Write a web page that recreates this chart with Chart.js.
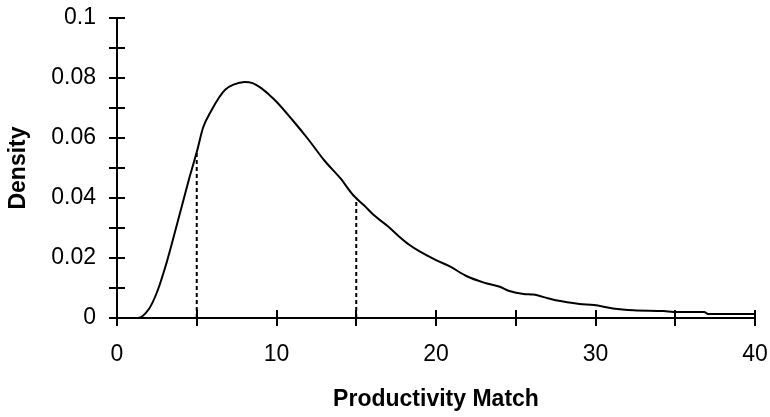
<!DOCTYPE html>
<html>
<head>
<meta charset="utf-8">
<script src="https://cdn.jsdelivr.net/npm/chart.js@4/dist/chart.umd.min.js"></script>
<style>
  html, body { margin: 0; padding: 0; background: #fff; }
  #wrap { width: 770px; height: 417px; }
</style>
</head>
<body>
<div id="wrap"><canvas id="densityChart"></canvas></div>
<script>
// --- data ---
const matchX = [0, 1.3, 2.0, 2.5, 3.0, 3.5, 4.0, 4.5, 5.0, 5.4, 5.9, 6.4, 6.8, 7.3, 8.0, 8.5, 9.0, 9.5, 10.0,
  11.0, 12.0, 13.0, 14.0, 14.8, 15.5, 16.1, 17.0, 17.7, 18.3, 19.0, 20.0, 20.9, 21.9, 23.0, 24.0, 24.6, 25.5,
  26.1, 27.0, 27.6, 29.0, 29.9, 31.1, 32.4, 34.3, 34.9, 36.8, 37.1, 40.0];
const densityY = [0, 0, 0.003, 0.0085, 0.0165, 0.026, 0.036, 0.046, 0.0553, 0.0635, 0.069, 0.0735, 0.0762,
  0.0778, 0.0787, 0.0783, 0.0768, 0.0746, 0.0721, 0.066, 0.0595, 0.0525, 0.0466, 0.041, 0.0375, 0.0343, 0.0305,
  0.0271, 0.0245, 0.0221, 0.0193, 0.0171, 0.014, 0.0118, 0.0104, 0.009, 0.008, 0.0078, 0.0066, 0.0058, 0.0047,
  0.0043, 0.0032, 0.0026, 0.0023, 0.002, 0.002, 0.0013, 0.0013];

// dotted drop lines
const dropX = [5, 15];
const dropY = [0.0553, 0.0395];

const xTicks = [0, 10, 20, 30, 40];
const yTicks = [0, 0.02, 0.04, 0.06, 0.08, 0.1];

const FONT = "'Liberation Sans', Arial, sans-serif";

const curve = matchX.map((x, i) => ({ x: x, y: densityY[i] }));
const dropSets = dropX.map((x, i) => ({
  data: [{ x: x, y: 0 }, { x: x, y: dropY[i] }],
  borderColor: '#000',
  borderWidth: 2,
  borderDash: [4, 3],
  pointRadius: 0,
  showLine: true,
  clip: false
}));

// axes with ticks crossing the line, like the original
const crossAxes = {
  id: 'crossAxes',
  afterDatasetsDraw(chart) {
    const { ctx, chartArea, scales } = chart;
    const xs = scales.x, ys = scales.y;
    ctx.save();
    ctx.strokeStyle = '#000';
    ctx.lineWidth = 2;
    ctx.beginPath();
    ctx.moveTo(chartArea.left, ys.getPixelForValue(0.1));
    ctx.lineTo(chartArea.left, ys.getPixelForValue(0));
    ctx.lineTo(xs.getPixelForValue(40), ys.getPixelForValue(0));
    for (let v = 0; v <= 0.1001; v += 0.01) {
      const py = Math.round(ys.getPixelForValue(v));
      ctx.moveTo(chartArea.left - 8, py);
      ctx.lineTo(chartArea.left + 8, py);
    }
    for (let v = 0; v <= 40; v += 5) {
      const px = Math.round(xs.getPixelForValue(v));
      ctx.moveTo(px, chartArea.bottom - 8);
      ctx.lineTo(px, chartArea.bottom + 8);
    }
    ctx.stroke();
    ctx.restore();
  }
};

new Chart(document.getElementById('densityChart'), {
  type: 'scatter',
  data: {
    datasets: [{
      data: curve,
      borderColor: '#000',
      borderWidth: 2,
      pointRadius: 0,
      showLine: true,
      cubicInterpolationMode: 'monotone',
      clip: false
    }, ...dropSets]
  },
  options: {
    responsive: true,
    maintainAspectRatio: false,
    animation: false,
    layout: { padding: { top: 18, right: 15, left: 0, bottom: 0 } },
    plugins: { legend: { display: false }, tooltip: { enabled: false } },
    scales: {
      x: {
        type: 'linear',
        min: 0, max: 40,
        afterBuildTicks: s => { s.ticks = xTicks.map(v => ({ value: v })); },
        afterFit: s => { s.height = 99; s.paddingLeft = 0; s.paddingRight = 0; },
        grid: { display: false, drawTicks: false },
        border: { display: false },
        ticks: { color: '#000', padding: 23, font: { family: FONT, size: 23 } },
        title: {
          display: true,
          text: 'Productivity Match',
          color: '#000',
          font: { family: FONT, size: 23, weight: 'bold' },
          padding: { top: 0, bottom: 4 }
        }
      },
      y: {
        type: 'linear',
        min: 0, max: 0.1,
        afterBuildTicks: s => { s.ticks = yTicks.map(v => ({ value: v })); },
        afterFit: s => { s.width = 117; s.paddingTop = 0; s.paddingBottom = 0; },
        grid: { display: false, drawTicks: false },
        border: { display: false },
        ticks: {
          color: '#000', padding: 21,
          font: { family: FONT, size: 23 },
          callback: v => String(+v.toFixed(2))
        },
        title: {
          display: true,
          text: 'Density',
          color: '#000',
          font: { family: FONT, size: 23, weight: 'bold' },
          padding: { top: 5, bottom: 0 }
        }
      }
    }
  },
  plugins: [crossAxes]
});
</script>
</body>
</html>
